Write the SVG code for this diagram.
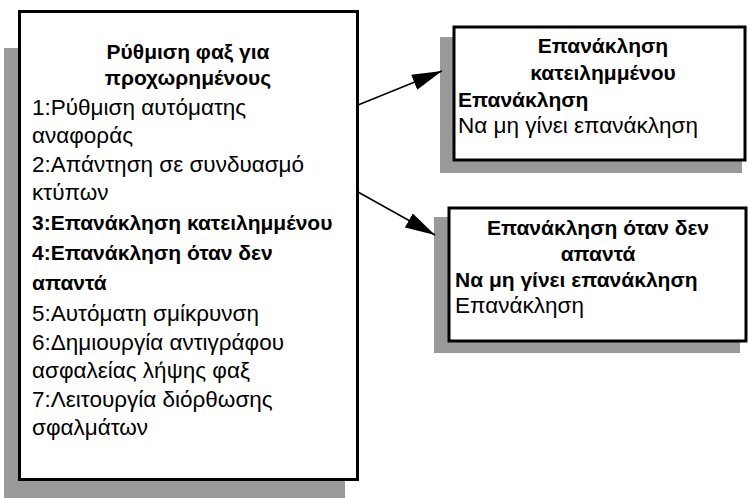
<svg xmlns="http://www.w3.org/2000/svg" width="748" height="498" viewBox="0 0 748 498">
<style>
.shadow{fill:#999999;stroke:none}
.box{fill:#ffffff;stroke:#000000;stroke-width:3}
text{font-family:"Liberation Sans","DejaVu Sans",sans-serif;font-size:22.5px;fill:#000000}
.b{font-weight:bold;font-size:21px}
.c{text-anchor:middle}
.conn{stroke:#000000;stroke-width:1.5;fill:none}
</style>
<defs>
<marker id="arrow" markerUnits="userSpaceOnUse" viewBox="0 0 30 16" refX="30" refY="8" markerWidth="30" markerHeight="16" orient="auto">
<path d="M0,0 L30,8 L0,16 z" fill="#000000"/>
</marker>
</defs>
<g id="main">
<rect class="shadow" x="4" y="48" width="341" height="450"/>
<rect class="box" x="19.5" y="11.5" width="338" height="468"/>
<text class="b c" x="188" y="59">Ρύθμιση φαξ για</text>
<text class="b c" x="188" y="85">προχωρημένους</text>
<text x="32" y="115">1:Ρύθμιση αυτόματης</text>
<text x="32" y="143">αναφοράς</text>
<text x="32" y="172">2:Απάντηση σε συνδυασμό</text>
<text x="32" y="200">κτύπων</text>
<text class="b" x="32" y="230">3:Επανάκληση κατειλημμένου</text>
<text class="b" x="32" y="260">4:Επανάκληση όταν δεν</text>
<text class="b" x="32" y="290">απαντά</text>
<text x="32" y="321">5:Αυτόματη σμίκρυνση</text>
<text x="32" y="350">6:Δημιουργία αντιγράφου</text>
<text x="32" y="378">ασφαλείας λήψης φαξ</text>
<text x="32" y="407">7:Λειτουργία διόρθωσης</text>
<text x="32" y="435">σφαλμάτων</text>
</g>
<g id="busy">
<rect class="shadow" x="440" y="37" width="302" height="136"/>
<rect class="box" x="454" y="27" width="291" height="133"/>
<text class="b c" x="603" y="53">Επανάκληση</text>
<text class="b c" x="603" y="80">κατειλημμένου</text>
<text class="b" x="458" y="107">Επανάκληση</text>
<text x="458" y="133">Να μη γίνει επανάκληση</text>
</g>
<g id="noanswer">
<rect class="shadow" x="434" y="217" width="306" height="136"/>
<rect class="box" x="449" y="208" width="297" height="133"/>
<text class="b c" x="598" y="235">Επανάκληση όταν δεν</text>
<text class="b c" x="598" y="261">απαντά</text>
<text class="b" x="455" y="287">Να μη γίνει επανάκληση</text>
<text x="455" y="313">Επανάκληση</text>
</g>
<g id="connectors">
<line class="conn" x1="358" y1="105" x2="442" y2="71" marker-end="url(#arrow)"/>
<line class="conn" x1="358" y1="192" x2="435" y2="235" marker-end="url(#arrow)"/>
</g>
</svg>
